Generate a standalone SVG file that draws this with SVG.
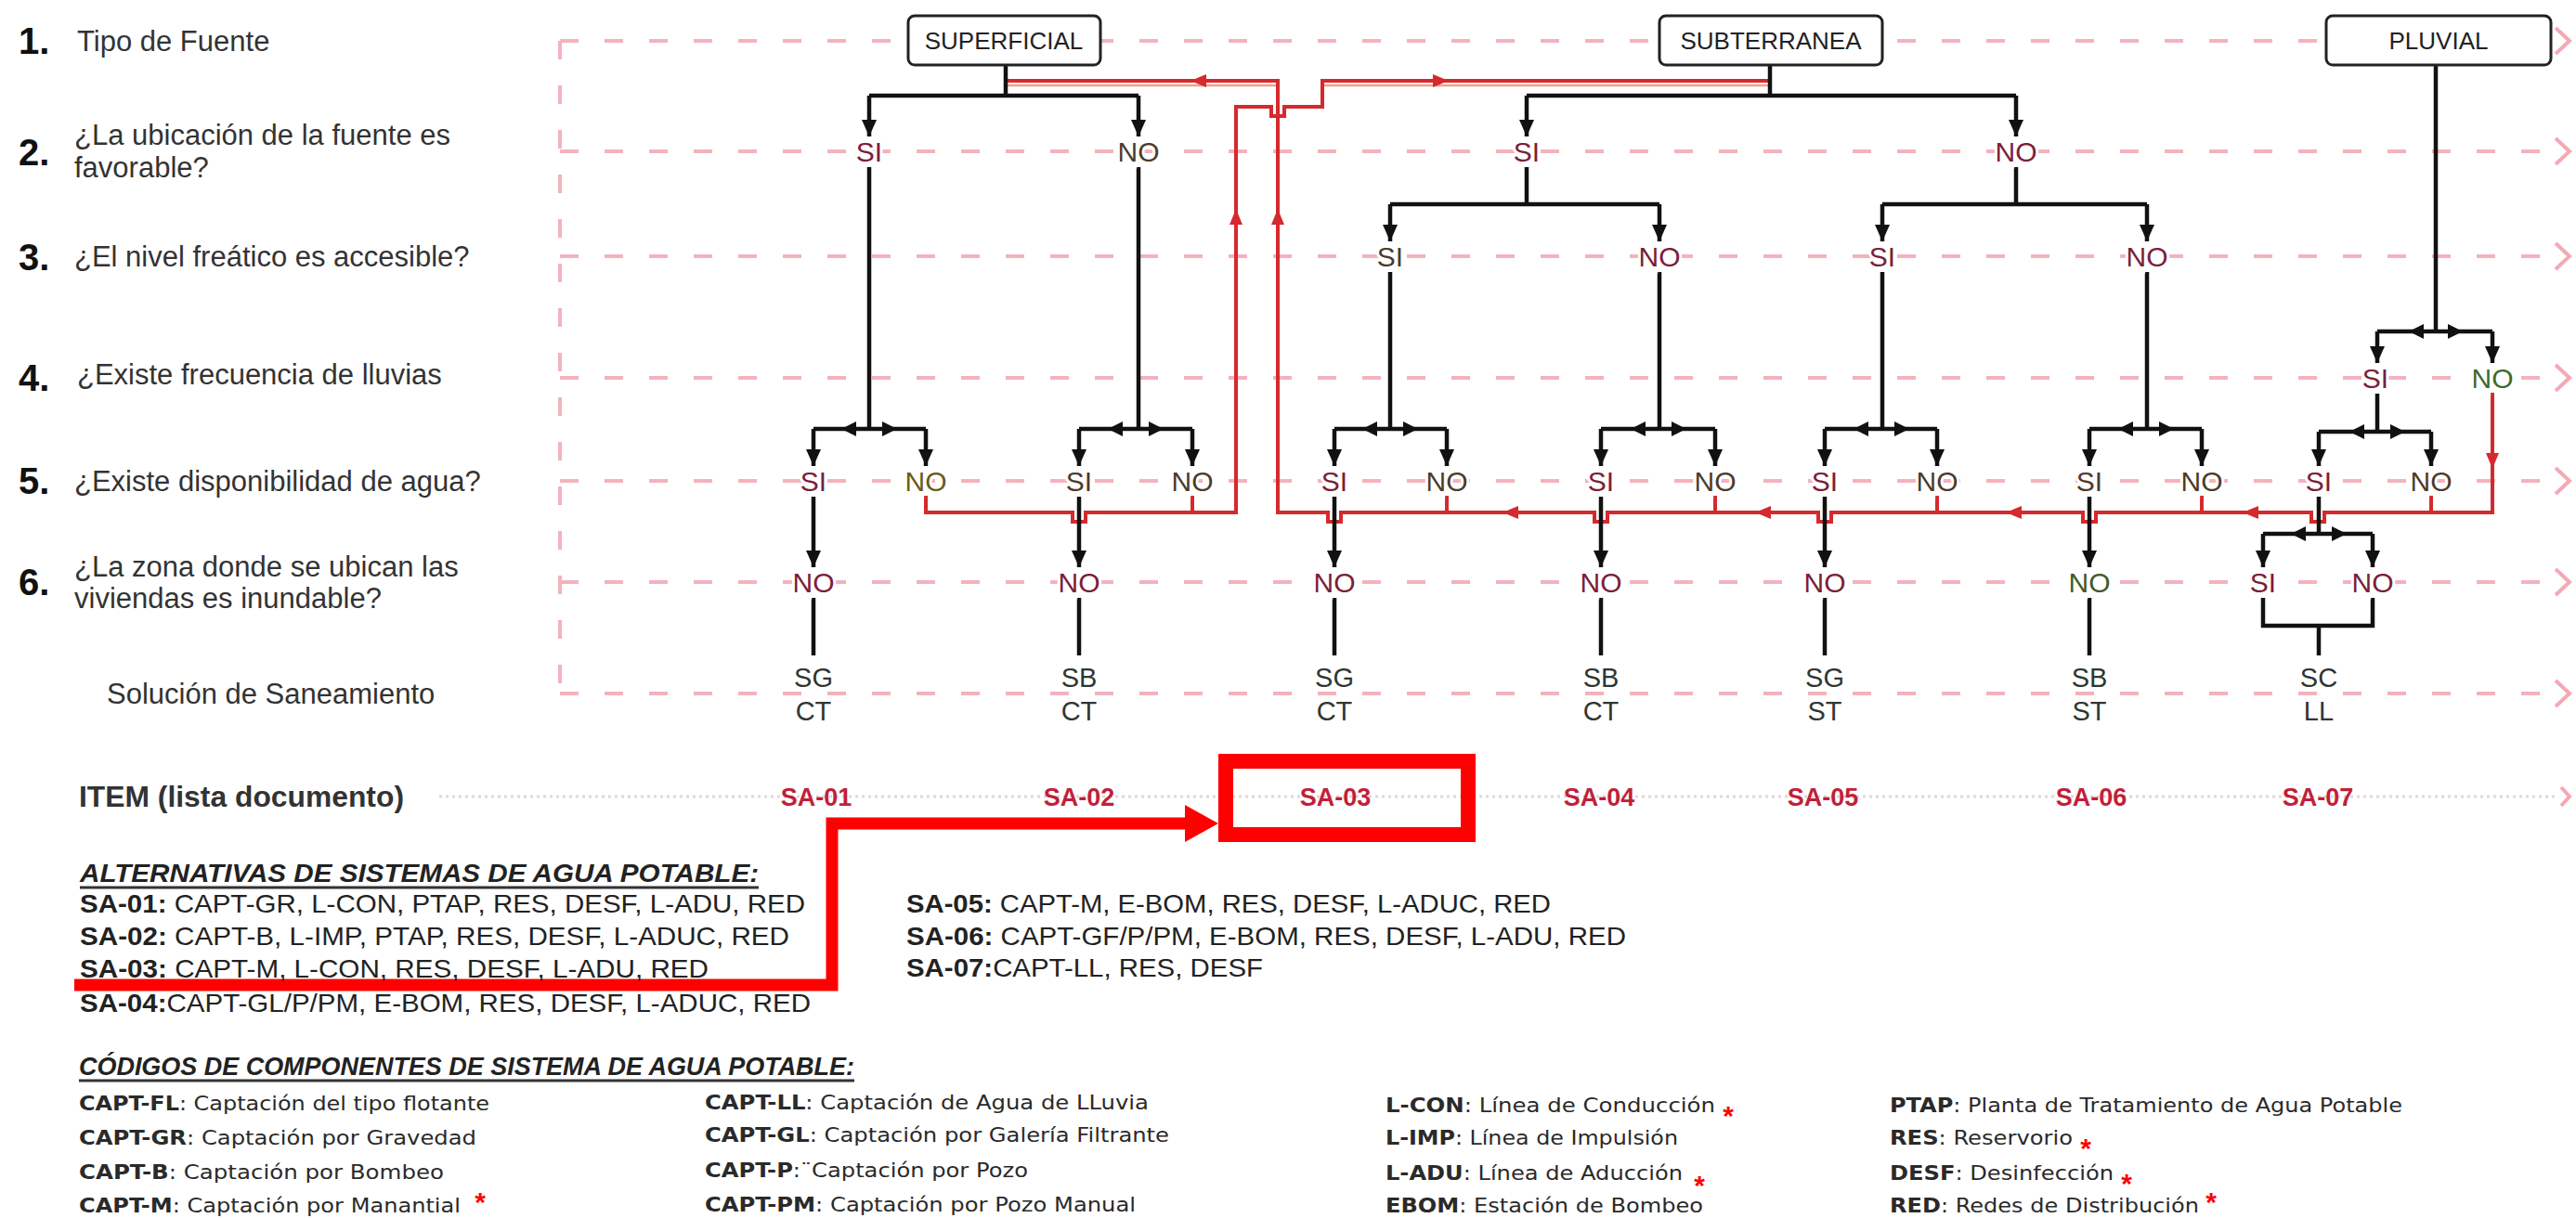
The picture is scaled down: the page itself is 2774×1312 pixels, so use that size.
<svg xmlns="http://www.w3.org/2000/svg" width="2774" height="1312" viewBox="0 0 2774 1312">
<defs>
<style>
.grid{stroke:#f3b3bc;stroke-width:4;stroke-dasharray:20 28;fill:none}
.chev{stroke:#f4a9b4;stroke-width:4;fill:none}
.dot{stroke:#e3d6d8;stroke-width:3;stroke-dasharray:3 4;fill:none}
.ln{stroke:#111;stroke-width:4.5;fill:none}
.rd{stroke:#d42a2e;stroke-width:4;fill:none}
.rds{stroke:#f2a08c;stroke-width:2.5;fill:none}
.big{stroke:#ff0000;fill:none}
.lbl{font-family:"Liberation Sans",Arial,sans-serif;font-size:31px;fill:#333}
.num{font-family:"Liberation Sans",Arial,sans-serif;font-size:40px;font-weight:bold;fill:#111}
.yn{font-family:"Liberation Sans",Arial,sans-serif;font-size:30px;text-anchor:middle;fill:#7a2038;paint-order:stroke;stroke:#fff;stroke-width:6px}
.no2{fill:#4d3a2a}
.lf{font-family:"Liberation Sans",Arial,sans-serif;font-size:29px;text-anchor:middle;fill:#2f3631}
.bx rect{fill:#fff;stroke:#222;stroke-width:3}
.bx text{font-family:"Liberation Sans",Arial,sans-serif;font-size:26px;text-anchor:middle;fill:#222}
.sa{font-family:"Liberation Sans",Arial,sans-serif;font-size:27px;font-weight:bold;text-anchor:middle;fill:#c21f3a}
.alt{font-family:"Liberation Sans",Arial,sans-serif;font-size:28px;fill:#222}
.ttl{font-family:"Liberation Sans",Arial,sans-serif;font-size:28px;font-weight:bold;font-style:italic;fill:#222}
.cd{font-family:"DejaVu Sans","Liberation Sans",sans-serif;font-size:22px;fill:#2a2a2a}
.ast{font-family:"Liberation Sans",Arial,sans-serif;font-size:30px;font-weight:bold;text-anchor:middle;fill:#ff0000}
</style>
<marker id="ah" viewBox="0 0 18 16" refX="18" refY="8" markerWidth="18" markerHeight="16" markerUnits="userSpaceOnUse" orient="auto"><path d="M0,0 L18,8 L0,16 z" fill="#111"/></marker>
<path id="bl" d="M0,0 l16,-8 v16 z" fill="#111"/>
<path id="br" d="M0,0 l-16,-8 v16 z" fill="#111"/>
<path id="rl" d="M0,0 l17,-7 v14 z" fill="#d42a2e"/>
<path id="rr" d="M0,0 l-17,-7 v14 z" fill="#d42a2e"/>
<path id="ru" d="M0,0 l-7,17 h14 z" fill="#d42a2e"/>
<path id="rdn" d="M0,0 l-7,-17 h14 z" fill="#d42a2e"/>
</defs>
<rect width="2774" height="1312" fill="#fff"/>

<g id="grid">
<path class="grid" d="M603 44 V747"/>
<path class="grid" d="M603 44 H2748 M603 163 H2748 M603 276 H2748 M603 407 H2748 M603 518 H2748 M603 627 H2748 M603 747 H2748"/>
<path class="chev" d="M2752 30 L2767 44 L2752 58 M2752 149 L2767 163 L2752 177 M2752 262 L2767 276 L2752 290 M2752 393 L2767 407 L2752 421 M2752 504 L2767 518 L2752 532 M2752 613 L2767 627 L2752 641 M2752 733 L2767 747 L2752 761"/>
<path class="dot" d="M473 858 H2755"/>
<path class="chev" d="M2758 848 L2767 858 L2758 868"/>
</g>

<g id="questions">
<g id="q1"><text class="num" x="20" y="58">1.</text><text class="lbl" x="83" y="55">Tipo de Fuente</text></g>
<g id="q2"><text class="num" x="20" y="178">2.</text><text class="lbl" x="80" y="156">¿La ubicación de la fuente es</text><text class="lbl" x="80" y="191">favorable?</text></g>
<g id="q3"><text class="num" x="20" y="291">3.</text><text class="lbl" x="80" y="287">¿El nivel freático es accesible?</text></g>
<g id="q4"><text class="num" x="20" y="421">4.</text><text class="lbl" x="83" y="414">¿Existe frecuencia de lluvias</text></g>
<g id="q5"><text class="num" x="20" y="532">5.</text><text class="lbl" x="80" y="529">¿Existe disponibilidad de agua?</text></g>
<g id="q6"><text class="num" x="20" y="641">6.</text><text class="lbl" x="80" y="621">¿La zona donde se ubican las</text><text class="lbl" x="80" y="655">viviendas es inundable?</text></g>
<g id="q7"><text class="lbl" x="115" y="758">Solución de Saneamiento</text></g>
<g id="item"><text class="lbl" x="85" y="869" font-weight="bold" fill="#222" textLength="350" lengthAdjust="spacingAndGlyphs">ITEM (lista documento)</text></g>
</g>

<g id="connectors">
<!-- red routes -->
<path class="rds" d="M1083 92 H1376 M1424 92 H1906"/>
<path class="rd" d="M997 534 V552 H1155 v10 h14 v-10 H1331 V115 H1369 v10 h14 v-10 H1424 V87 H1906"/>
<path class="rd" d="M1284 534 V552"/>
<path class="rd" d="M2684 423 V552 H2503 v10 h-14 v-10 H2257 v10 h-14 v-10 H1972 v10 h-14 v-10 H1731 v10 h-14 v-10 H1444 v10 h-14 v-10 H1376 V87 H1083"/>
<path class="rd" d="M2618 534 V552 M2371 534 V552 M2086 534 V552 M1847 534 V552 M1558 534 V552"/>
<use href="#rl" x="1282" y="87"/>
<use href="#rr" x="1560" y="87"/>
<use href="#ru" x="1331" y="225"/>
<use href="#ru" x="1376" y="225"/>
<use href="#rdn" x="2684" y="505"/>
<use href="#rl" x="1618" y="552"/>
<use href="#rl" x="1890" y="552"/>
<use href="#rl" x="2160" y="552"/>
<use href="#rl" x="2415" y="552"/>

<!-- SUPERFICIAL -->
<path class="ln" d="M1083 70 V103 M936 103 H1226"/>
<path class="ln" marker-end="url(#ah)" d="M936 103 V147"/>
<path class="ln" marker-end="url(#ah)" d="M1226 103 V147"/>
<path class="ln" d="M936 180 V462 M876 462 H997 M1226 180 V462 M1162 462 H1284"/>
<!-- SUBTERRANEA -->
<path class="ln" d="M1906 70 V103 M1644 103 H2171"/>
<path class="ln" marker-end="url(#ah)" d="M1644 103 V147"/>
<path class="ln" marker-end="url(#ah)" d="M2171 103 V147"/>
<path class="ln" d="M1644 180 V220 M1497 220 H1787 M2171 180 V220 M2027 220 H2312"/>
<path class="ln" marker-end="url(#ah)" d="M1497 220 V260"/>
<path class="ln" marker-end="url(#ah)" d="M1787 220 V260"/>
<path class="ln" marker-end="url(#ah)" d="M2027 220 V260"/>
<path class="ln" marker-end="url(#ah)" d="M2312 220 V260"/>
<path class="ln" d="M1497 293 V462 M1437 462 H1558 M1787 293 V462 M1724 462 H1847 M2027 293 V462 M1965 462 H2086 M2312 293 V462 M2250 462 H2371"/>
<!-- PLUVIAL -->
<path class="ln" d="M2623 70 V357 M2560 357 H2684"/>
<path class="ln" marker-end="url(#ah)" d="M2560 357 V391"/>
<path class="ln" marker-end="url(#ah)" d="M2684 357 V391"/>
<use href="#bl" x="2594" y="357"/><use href="#br" x="2652" y="357"/>
<path class="ln" d="M2560 424 V465 M2497 465 H2618"/>
<use href="#bl" x="2530" y="465"/><use href="#br" x="2590" y="465"/>
<!-- row 5 down arrows from bars -->
<path class="ln" marker-end="url(#ah)" d="M876 462 V502"/>
<path class="ln" marker-end="url(#ah)" d="M997 462 V502"/>
<path class="ln" marker-end="url(#ah)" d="M1162 462 V502"/>
<path class="ln" marker-end="url(#ah)" d="M1284 462 V502"/>
<path class="ln" marker-end="url(#ah)" d="M1437 462 V502"/>
<path class="ln" marker-end="url(#ah)" d="M1558 462 V502"/>
<path class="ln" marker-end="url(#ah)" d="M1724 462 V502"/>
<path class="ln" marker-end="url(#ah)" d="M1847 462 V502"/>
<path class="ln" marker-end="url(#ah)" d="M1965 462 V502"/>
<path class="ln" marker-end="url(#ah)" d="M2086 462 V502"/>
<path class="ln" marker-end="url(#ah)" d="M2250 462 V502"/>
<path class="ln" marker-end="url(#ah)" d="M2371 462 V502"/>
<path class="ln" marker-end="url(#ah)" d="M2497 465 V502"/>
<path class="ln" marker-end="url(#ah)" d="M2618 465 V502"/>
<use href="#bl" x="906" y="462"/><use href="#br" x="966" y="462"/>
<use href="#bl" x="1193" y="462"/><use href="#br" x="1253" y="462"/>
<use href="#bl" x="1467" y="462"/><use href="#br" x="1527" y="462"/>
<use href="#bl" x="1756" y="462"/><use href="#br" x="1816" y="462"/>
<use href="#bl" x="1996" y="462"/><use href="#br" x="2056" y="462"/>
<use href="#bl" x="2281" y="462"/><use href="#br" x="2341" y="462"/>
<!-- row 5 to row 6 -->
<path class="ln" marker-end="url(#ah)" d="M876 535 V611"/>
<path class="ln" marker-end="url(#ah)" d="M1162 535 V611"/>
<path class="ln" marker-end="url(#ah)" d="M1437 535 V611"/>
<path class="ln" marker-end="url(#ah)" d="M1724 535 V611"/>
<path class="ln" marker-end="url(#ah)" d="M1965 535 V611"/>
<path class="ln" marker-end="url(#ah)" d="M2250 535 V611"/>
<path class="ln" d="M2497 535 V575 M2437 575 H2555"/>
<use href="#bl" x="2467" y="575"/><use href="#br" x="2527" y="575"/>
<path class="ln" marker-end="url(#ah)" d="M2437 575 V611"/>
<path class="ln" marker-end="url(#ah)" d="M2555 575 V611"/>
<!-- row 6 to leaves -->
<path class="ln" d="M876 644 V706 M1162 644 V706 M1437 644 V706 M1724 644 V706 M1965 644 V706 M2250 644 V706"/>
<path class="ln" d="M2437 644 V674 H2555 V644 M2497 674 V706"/>
<!-- highlight annotation -->
<path class="big" stroke-width="13" d="M80 1061 H896 V887 H1282"/>
<path d="M1276 867 L1312 887 L1276 907 z" fill="#ff0000"/>
</g>

<g id="source-boxes">
<g id="n-superficial" class="bx"><rect x="978" y="17" width="207" height="53" rx="7"/><text x="1081" y="53">SUPERFICIAL</text></g>
<g id="n-subterranea" class="bx"><rect x="1787" y="17" width="240" height="53" rx="7"/><text x="1907" y="53">SUBTERRANEA</text></g>
<g id="n-pluvial" class="bx"><rect x="2505" y="17" width="242" height="53" rx="7"/><text x="2626" y="53">PLUVIAL</text></g>
</g>

<g id="decision-nodes">
<g id="r2"><text class="yn" x="936" y="174" fill="#b0303a">SI</text><text class="yn no2" x="1226" y="174">NO</text><text class="yn" x="1644" y="174">SI</text><text class="yn" x="2171" y="174">NO</text></g>
<g id="r3"><text class="yn no2" x="1497" y="287">SI</text><text class="yn" x="1787" y="287">NO</text><text class="yn" x="2027" y="287">SI</text><text class="yn" x="2312" y="287">NO</text></g>
<g id="r4"><text class="yn" x="2558" y="418">SI</text><text class="yn" x="2684" y="418" style="fill:#3f6b2a">NO</text></g>
<g id="r5">
<text class="yn" x="876" y="529">SI</text><text class="yn" x="997" y="529" style="fill:#6b5a1a">NO</text>
<text class="yn no2" x="1162" y="529">SI</text><text class="yn no2" x="1284" y="529">NO</text>
<text class="yn" x="1437" y="529">SI</text><text class="yn no2" x="1558" y="529">NO</text>
<text class="yn" x="1724" y="529">SI</text><text class="yn no2" x="1847" y="529">NO</text>
<text class="yn" x="1965" y="529">SI</text><text class="yn no2" x="2086" y="529">NO</text>
<text class="yn no2" x="2250" y="529">SI</text><text class="yn no2" x="2371" y="529">NO</text>
<text class="yn" x="2497" y="529">SI</text><text class="yn no2" x="2618" y="529">NO</text>
</g>
<g id="r6">
<text class="yn" x="876" y="638">NO</text><text class="yn" x="1162" y="638">NO</text><text class="yn" x="1437" y="638">NO</text><text class="yn" x="1724" y="638">NO</text><text class="yn" x="1965" y="638">NO</text><text class="yn" x="2250" y="638" style="fill:#3f5a2a">NO</text><text class="yn" x="2437" y="638">SI</text><text class="yn" x="2555" y="638">NO</text>
</g>
</g>

<g id="solutions">
<g id="s1"><text class="lf" x="876" y="740">SG</text><text class="lf" x="876" y="776">CT</text></g>
<g id="s2"><text class="lf" x="1162" y="740">SB</text><text class="lf" x="1162" y="776">CT</text></g>
<g id="s3"><text class="lf" x="1437" y="740">SG</text><text class="lf" x="1437" y="776">CT</text></g>
<g id="s4"><text class="lf" x="1724" y="740">SB</text><text class="lf" x="1724" y="776">CT</text></g>
<g id="s5"><text class="lf" x="1965" y="740">SG</text><text class="lf" x="1965" y="776">ST</text></g>
<g id="s6"><text class="lf" x="2250" y="740">SB</text><text class="lf" x="2250" y="776">ST</text></g>
<g id="s7"><text class="lf" x="2497" y="740">SC</text><text class="lf" x="2497" y="776">LL</text></g>
</g>

<g id="items">
<text class="sa" x="879" y="868">SA-01</text>
<text class="sa" x="1162" y="868">SA-02</text>
<text class="sa" x="1438" y="868">SA-03</text>
<text class="sa" x="1722" y="868">SA-04</text>
<text class="sa" x="1963" y="868">SA-05</text>
<text class="sa" x="2252" y="868">SA-06</text>
<text class="sa" x="2496" y="868">SA-07</text>
<rect id="highlight" class="big" stroke-width="16" x="1320" y="820" width="261" height="79"/>
</g>

<g id="alternatives">
<text class="ttl" x="86" y="950" textLength="731" lengthAdjust="spacingAndGlyphs">ALTERNATIVAS DE SISTEMAS DE AGUA POTABLE:</text>
<path d="M86 956 H817" stroke="#333" stroke-width="3"/>
<text class="alt" x="86" y="983" textLength="781" lengthAdjust="spacingAndGlyphs"><tspan font-weight="bold">SA-01:</tspan> CAPT-GR, L-CON, PTAP, RES, DESF, L-ADU, RED</text>
<text class="alt" x="86" y="1018" textLength="764" lengthAdjust="spacingAndGlyphs"><tspan font-weight="bold">SA-02:</tspan> CAPT-B, L-IMP, PTAP, RES, DESF, L-ADUC, RED</text>
<text class="alt" x="86" y="1053" textLength="677" lengthAdjust="spacingAndGlyphs"><tspan font-weight="bold">SA-03:</tspan> CAPT-M, L-CON, RES, DESF, L-ADU, RED</text>
<text class="alt" x="86" y="1090" textLength="787" lengthAdjust="spacingAndGlyphs"><tspan font-weight="bold">SA-04:</tspan>CAPT-GL/P/PM, E-BOM, RES, DESF, L-ADUC, RED</text>
<text class="alt" x="976" y="983" textLength="694" lengthAdjust="spacingAndGlyphs"><tspan font-weight="bold">SA-05:</tspan> CAPT-M, E-BOM, RES, DESF, L-ADUC, RED</text>
<text class="alt" x="976" y="1018" textLength="775" lengthAdjust="spacingAndGlyphs"><tspan font-weight="bold">SA-06:</tspan> CAPT-GF/P/PM, E-BOM, RES, DESF, L-ADU, RED</text>
<text class="alt" x="976" y="1052" textLength="384" lengthAdjust="spacingAndGlyphs"><tspan font-weight="bold">SA-07:</tspan>CAPT-LL, RES, DESF</text>
</g>

<g id="codes">
<text class="ttl" x="85" y="1158" font-size="25" textLength="835" lengthAdjust="spacingAndGlyphs">CÓDIGOS DE COMPONENTES DE SISTEMA DE AGUA POTABLE:</text>
<path d="M85 1164 H920" stroke="#333" stroke-width="3"/>
<text class="cd" x="85" y="1196" textLength="442" lengthAdjust="spacingAndGlyphs"><tspan font-weight="bold">CAPT-FL</tspan>: Captación del tipo flotante</text>
<text class="cd" x="85" y="1233" textLength="428" lengthAdjust="spacingAndGlyphs"><tspan font-weight="bold">CAPT-GR</tspan>: Captación por Gravedad</text>
<text class="cd" x="85" y="1270" textLength="393" lengthAdjust="spacingAndGlyphs"><tspan font-weight="bold">CAPT-B</tspan>: Captación por Bombeo</text>
<text class="cd" x="85" y="1306" textLength="411" lengthAdjust="spacingAndGlyphs"><tspan font-weight="bold">CAPT-M</tspan>: Captación por Manantial</text>
<text class="ast" x="517" y="1305">*</text>
<text class="cd" x="759" y="1195" textLength="478" lengthAdjust="spacingAndGlyphs"><tspan font-weight="bold">CAPT-LL</tspan>: Captación de Agua de LLuvia</text>
<text class="cd" x="759" y="1230" textLength="500" lengthAdjust="spacingAndGlyphs"><tspan font-weight="bold">CAPT-GL</tspan>: Captación por Galería Filtrante</text>
<text class="cd" x="759" y="1268" textLength="348" lengthAdjust="spacingAndGlyphs"><tspan font-weight="bold">CAPT-P</tspan>:¨Captación por Pozo</text>
<text class="cd" x="759" y="1305" textLength="464" lengthAdjust="spacingAndGlyphs"><tspan font-weight="bold">CAPT-PM</tspan>: Captación por Pozo Manual</text>
<text class="cd" x="1492" y="1198" textLength="355" lengthAdjust="spacingAndGlyphs"><tspan font-weight="bold">L-CON</tspan>: Línea de Conducción</text>
<text class="ast" x="1861" y="1212">*</text>
<text class="cd" x="1492" y="1233" textLength="315" lengthAdjust="spacingAndGlyphs"><tspan font-weight="bold">L-IMP</tspan>: Línea de Impulsión</text>
<text class="cd" x="1492" y="1271" textLength="320" lengthAdjust="spacingAndGlyphs"><tspan font-weight="bold">L-ADU</tspan>: Línea de Aducción</text>
<text class="ast" x="1830" y="1287">*</text>
<text class="cd" x="1492" y="1306" textLength="342" lengthAdjust="spacingAndGlyphs"><tspan font-weight="bold">EBOM</tspan>: Estación de Bombeo</text>
<text class="cd" x="2035" y="1198" textLength="552" lengthAdjust="spacingAndGlyphs"><tspan font-weight="bold">PTAP</tspan>: Planta de Tratamiento de Agua Potable</text>
<text class="cd" x="2035" y="1233" textLength="197" lengthAdjust="spacingAndGlyphs"><tspan font-weight="bold">RES</tspan>: Reservorio</text>
<text class="ast" x="2246" y="1247">*</text>
<text class="cd" x="2035" y="1271" textLength="241" lengthAdjust="spacingAndGlyphs"><tspan font-weight="bold">DESF</tspan>: Desinfección</text>
<text class="ast" x="2290" y="1285">*</text>
<text class="cd" x="2035" y="1306" textLength="333" lengthAdjust="spacingAndGlyphs"><tspan font-weight="bold">RED</tspan>: Redes de Distribución</text>
<text class="ast" x="2381" y="1305">*</text>
</g>
</svg>
